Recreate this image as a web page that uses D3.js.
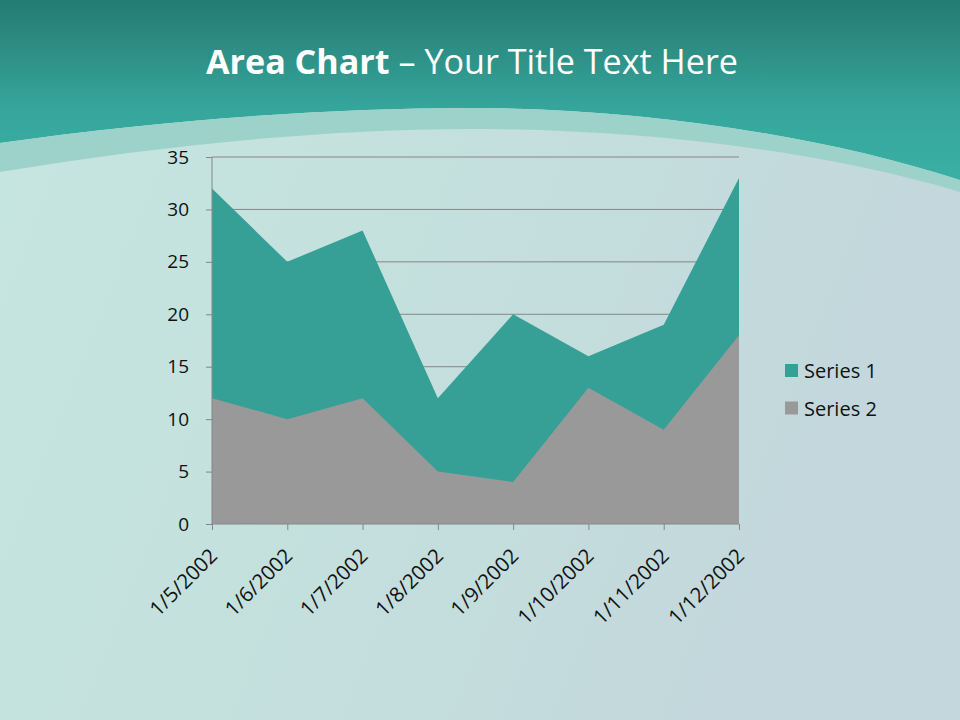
<!DOCTYPE html>
<html><head><meta charset="utf-8">
<script src="https://cdn.jsdelivr.net/npm/d3@7"></script>
<style>body{margin:0;padding:0;overflow:hidden;} svg{display:block;}</style>
</head><body>
<script>
const categories = ["1/5/2002","1/6/2002","1/7/2002","1/8/2002","1/9/2002","1/10/2002","1/11/2002","1/12/2002"];
const series1 = [32, 25, 28, 12, 20, 16, 19, 33];
const series2 = [12, 10, 12, 5, 4, 13, 9, 18];
const seriesNames = ["Series 1", "Series 2"];
const yTicks = [0, 5, 10, 15, 20, 25, 30, 35];

const W = 960, H = 720;
const svg = d3.select("body").append("svg").attr("width", W).attr("height", H);
const defs = svg.append("defs");

const bgGrad = defs.append("linearGradient").attr("id","bg").attr("x1","0").attr("x2","1").attr("y1","0").attr("y2","0.3");
bgGrad.append("stop").attr("offset","0").attr("stop-color","#c6e6e0");
bgGrad.append("stop").attr("offset","0.5").attr("stop-color","#c4e0dd");
bgGrad.append("stop").attr("offset","1").attr("stop-color","#c3d7dc");
const topGrad = defs.append("linearGradient").attr("id","top").attr("gradientUnits","userSpaceOnUse")
  .attr("x1","0").attr("x2","0").attr("y1","0").attr("y2","200");
topGrad.append("stop").attr("offset","0").attr("stop-color","#257b72");
topGrad.append("stop").attr("offset","0.55").attr("stop-color","#36a69c");
topGrad.append("stop").attr("offset","1").attr("stop-color","#3bb2a7");

svg.append("rect").attr("width",W).attr("height",H).attr("fill","url(#bg)");

const outerD = "M0,143 C160,120 330,108 470,108 C640,108 820,135 960,180";
const innerRev = "L960,192 C820,150 640,129 470,129 C330,129 160,145 0,172 Z";
svg.append("path").attr("fill","url(#top)")
  .attr("d", outerD + " L960,0 L0,0 Z");
svg.append("path").attr("fill","#9dd2cb").attr("d", outerD + " " + innerRev);

const title = svg.append("text").attr("x",206).attr("y",74)
  .attr("textLength",532).attr("lengthAdjust","spacingAndGlyphs")
  .attr("fill","#ffffff").style("font-family","'Open Sans', sans-serif").style("font-size","34px");
title.append("tspan").attr("font-weight","bold").text("Area Chart");
title.append("tspan").text(" \u2013 Your Title Text Here");

const x0 = 212, x1 = 739, y0 = 524, y1 = 157;
const x = d3.scalePoint().domain(categories).range([x0, x1]);
const y = d3.scaleLinear().domain([0, 35]).range([y0, y1]);

const g = svg.append("g");
g.selectAll("line.grid").data(yTicks.filter(d=>d>0)).join("line")
  .attr("x1",x0).attr("x2",x1).attr("y1",d=>y(d)).attr("y2",d=>y(d))
  .attr("stroke","#868686").attr("stroke-width",1);

const area = d3.area().x((d,i)=>x(categories[i])).y0(y(0)).y1(d=>y(d));
g.append("path").datum(series1).attr("d",area).attr("fill","#36a097");
g.append("path").datum(series2).attr("d",area).attr("fill","#999999");

const yAxis = g.append("g").attr("transform",`translate(${x0},0)`)
  .call(d3.axisLeft(y).tickValues(yTicks).tickSize(6).tickPadding(17));
yAxis.select(".domain").attr("stroke","#868686").attr("d",`M0,${y0}V${y1}`);
yAxis.selectAll(".tick line").attr("stroke","#868686");
yAxis.selectAll("text").attr("fill","#111").style("font-family","'Open Sans', sans-serif").style("font-size","19px");

const xAxis = g.append("g").attr("transform",`translate(0,${y0})`)
  .call(d3.axisBottom(x).tickSize(6).tickPadding(6));
xAxis.select(".domain").attr("stroke","#868686").attr("d",`M${x0},0H${x1}`);
xAxis.selectAll(".tick line").attr("stroke","#868686");
xAxis.selectAll("text").attr("fill","#111").style("font-family","'Open Sans', sans-serif").style("font-size","20.5px")
  .attr("text-anchor","end").attr("dy","0.35em")
  .attr("transform","translate(1,28) rotate(-45)").attr("x",0).attr("y",0);

const colors = ["#36a097","#999999"];
const lg = svg.append("g");
seriesNames.forEach((n,i)=>{
  lg.append("rect").attr("x",785).attr("y",364+i*37.5).attr("width",13).attr("height",13).attr("fill",colors[i]);
  lg.append("text").attr("x",804).attr("y",378+i*37.5).attr("fill","#111")
    .style("font-family","'Open Sans', sans-serif").style("font-size","20px").text(n);
});
</script>
</body></html>
